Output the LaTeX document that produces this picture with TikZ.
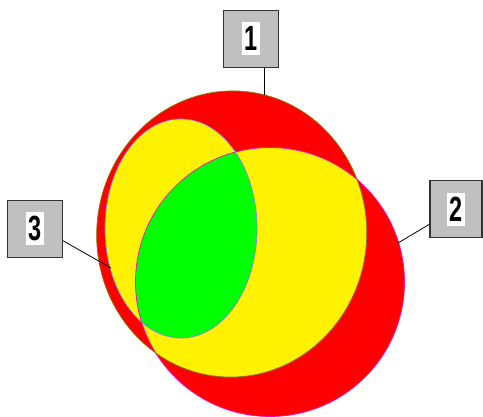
\documentclass[tikz,border=0pt]{standalone}
\usepackage{fontspec}
\usetikzlibrary{calc,positioning}
\newfontfamily\digitfont[FakeStretch=0.67]{Liberation Sans Bold}
\definecolor{edgeA}{RGB}{128,128,0}
\definecolor{edgeB}{RGB}{255,0,200}
\definecolor{edgeC}{RGB}{128,128,255}
\definecolor{tagfill}{RGB}{192,192,192}

\begin{document}
\begin{tikzpicture}[x=1pt,y=1pt,
    tag/.style={draw=black!80, line width=1.2pt, fill=tagfill, minimum width=55, minimum height=57},
    digit/.style={fill=white, inner sep=0pt, minimum width=18, minimum height=33, font=\digitfont\fontsize{35}{35}\selectfont},
    leader/.style={draw=black, line width=0.8pt}]
    \useasboundingbox (0,0) rectangle (483,416);
    % the three sets
    \fill[red] (231.7,182) ellipse [x radius=135, y radius=143.1, rotate=-4.1];
    \fill[red] (270,134) circle [radius=134.5];
    \begin{scope}
        \clip (231.7,182) ellipse [x radius=135, y radius=143.1, rotate=-4.1];
        \fill[yellow] (270,134) circle [radius=134.5];
    \end{scope}
    \fill[yellow] (181,187.5) ellipse [x radius=76, y radius=109.5];
    \begin{scope}
        \clip (181,187.5) ellipse [x radius=76, y radius=109.5];
        \fill[green] (270,134) circle [radius=134.5];
    \end{scope}
    \draw[edgeA, line width=0.7pt] (231.7,182) ellipse [x radius=135, y radius=143.1, rotate=-4.1];
    \draw[edgeB, line width=0.7pt] (270,134) circle [radius=134.5];
    \draw[edgeC, line width=0.7pt] (181,187.5) ellipse [x radius=76, y radius=109.5];
    % labels
    \node[tag] (box1) at (251.2,377.2) {};
    \node[digit] (num1) at (box1) {1};
    \node[tag, minimum width=52] (box2) at (455.9,206.7) {};
    \node[digit] (num2) at (box2) {2};
    \node[tag] (box3) at (35,187.2) {};
    \node[digit] (num3) at (box3) {3};
    \coordinate (tip1) at (264,321);
    \coordinate (tip2) at (398,173);
    \coordinate (tip3) at (111,148);
    \draw[leader] (box1.south -| tip1) -- (tip1);
    \draw[leader] ([yshift=-15pt]box2.west) -- (tip2);
    \draw[leader] ([yshift=-12pt]box3.east) -- (tip3);
\end{tikzpicture}
\end{document}
